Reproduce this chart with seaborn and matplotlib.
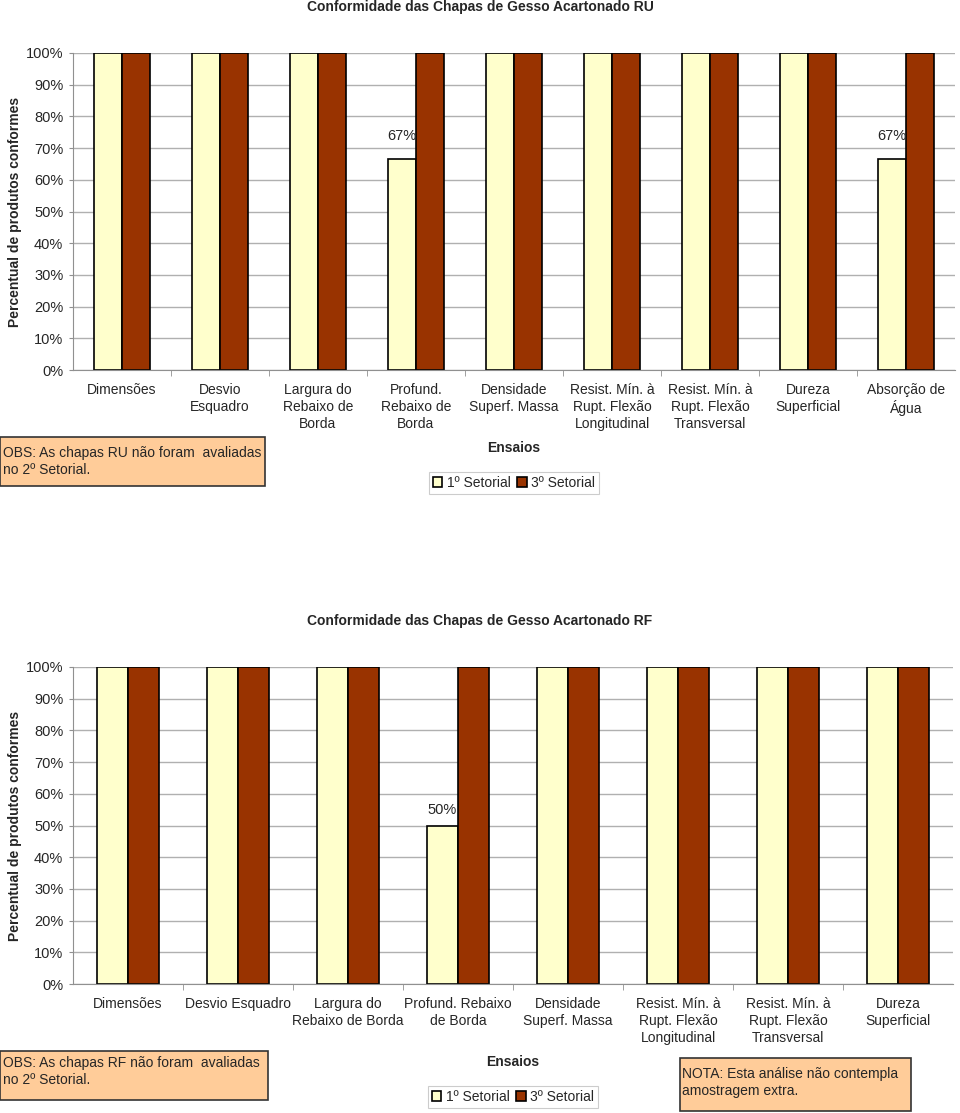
import pandas as pd
import matplotlib.pyplot as plt
import seaborn as sns
from matplotlib.patches import Rectangle
from matplotlib.ticker import FixedLocator, FuncFormatter

# Data
cats_ru = ["Dimensões", "Desvio\nEsquadro", "Largura do\nRebaixo de\nBorda",
           "Profund.\nRebaixo de\nBorda", "Densidade\nSuperf. Massa",
           "Resist. Mín. à\nRupt. Flexão\nLongitudinal",
           "Resist. Mín. à\nRupt. Flexão\nTransversal",
           "Dureza\nSuperficial", "Absorção de\nÁgua"]
ru_1 = [100, 100, 100, 66.7, 100, 100, 100, 100, 66.7]
ru_3 = [100, 100, 100, 100, 100, 100, 100, 100, 100]

cats_rf = ["Dimensões", "Desvio Esquadro", "Largura do\nRebaixo de Borda",
           "Profund. Rebaixo\nde Borda", "Densidade\nSuperf. Massa",
           "Resist. Mín. à\nRupt. Flexão\nLongitudinal",
           "Resist. Mín. à\nRupt. Flexão\nTransversal",
           "Dureza\nSuperficial"]
rf_1 = [100, 100, 100, 50, 100, 100, 100, 100]
rf_3 = [100, 100, 100, 100, 100, 100, 100, 100]

series = ["1º Setorial", "3º Setorial"]
colors = ["#FFFFCC", "#993300"]

sns.set_style("white")
plt.rcParams['font.family'] = ['Liberation Sans', 'DejaVu Sans']
plt.rcParams['font.size'] = 10

W, H = 960, 1113
fig = plt.figure(figsize=(9.6, 11.13), dpi=100)


def make_df(cats, v1, v3):
    rows = []
    for c, a, b in zip(cats, v1, v3):
        rows.append({"Ensaio": c, "Setorial": series[0], "Valor": a})
        rows.append({"Ensaio": c, "Setorial": series[1], "Valor": b})
    return pd.DataFrame(rows)


def draw(ax_rect, cats, v1, v3, title, pad_lab, title_y):
    ax = fig.add_axes(ax_rect)
    df = make_df(cats, v1, v3)
    sns.barplot(data=df, x="Ensaio", y="Valor", hue="Setorial", order=cats,
                hue_order=series, palette=colors, width=0.57, saturation=1,
                edgecolor="black", linewidth=1.2, ax=ax, legend=True)
    ax.set_ylim(0, 100)
    ax.set_xlim(-0.5, len(cats) - 0.5)
    ax.set_yticks(range(0, 101, 10))
    ax.yaxis.set_major_formatter(FuncFormatter(lambda v, p: f"{int(v)}%"))
    ax.yaxis.grid(True, color="#b0b0b0", linewidth=1)
    ax.set_axisbelow(True)
    for s in ["top", "right"]:
        ax.spines[s].set_visible(False)
    for s in ["left", "bottom"]:
        ax.spines[s].set_color("#909090")
    ax.tick_params(axis="y", left=True, length=3, color="#909090", labelsize=10.5, pad=4)
    ax.set_xticks(range(len(cats)))
    ax.set_xticklabels(cats, linespacing=1.25)
    ax.tick_params(axis="x", bottom=False, labelsize=10, pad=6)
    ax.xaxis.set_minor_locator(FixedLocator([i + 0.5 for i in range(len(cats) - 1)]))
    ax.tick_params(axis="x", which="minor", bottom=True, length=4, color="#909090")

    labels = [f"{v:.0f}%" if v < 100 else "" for v in v1]
    ax.bar_label(ax.containers[0], labels=labels, padding=pad_lab, fontsize=10.5)

    ax.set_xlabel("Ensaios", fontweight="bold", fontsize=10)
    ax.xaxis.set_label_coords(0.5, -0.225)
    ax.set_ylabel("Percentual de produtos conformes", fontweight="bold", fontsize=10)
    ax.yaxis.set_label_coords(-0.058, 0.5)

    leg = ax.legend(loc="center", bbox_to_anchor=(0.5, -0.356), ncol=2,
                    frameon=True, fancybox=False, edgecolor="#c0c0c0",
                    handlelength=0.7, handleheight=0.7, handletextpad=0.3,
                    columnspacing=0.5, borderpad=0.3, fontsize=10)
    leg.get_frame().set_linewidth(0.8)
    fig.text(0.5, 1 - title_y / H, title, ha="center", va="center",
             fontweight="bold", fontsize=10)
    return ax


def note(x0, y0, x1, y1, text, tx, ty):
    fig.patches.append(Rectangle((x0 / W, 1 - y1 / H), (x1 - x0) / W, (y1 - y0) / H,
                                 transform=fig.transFigure, facecolor="#FFCC99",
                                 edgecolor="#333333", linewidth=1.2))
    fig.text(tx / W, 1 - ty / H, text, ha="left", va="top", fontsize=10,
             linespacing=1.25)


draw([73 / W, 1 - 370 / H, 882 / W, 317 / H], cats_ru, ru_1, ru_3,
     "Conformidade das Chapas de Gesso Acartonado RU", 11, 7)
draw([73 / W, 1 - 984 / H, 880 / W, 317 / H], cats_rf, rf_1, rf_3,
     "Conformidade das Chapas de Gesso Acartonado RF", 6, 621)

note(0, 437, 265, 486, "OBS: As chapas RU não foram  avaliadas\nno 2º Setorial.", 3, 446)
note(0, 1051, 268, 1100, "OBS: As chapas RF não foram  avaliadas\nno 2º Setorial.", 3, 1056)
note(680, 1058, 911, 1111, "NOTA: Esta análise não contempla\namostragem extra.", 682, 1067)

plt.savefig("out.png", dpi=100)
plt.close()
